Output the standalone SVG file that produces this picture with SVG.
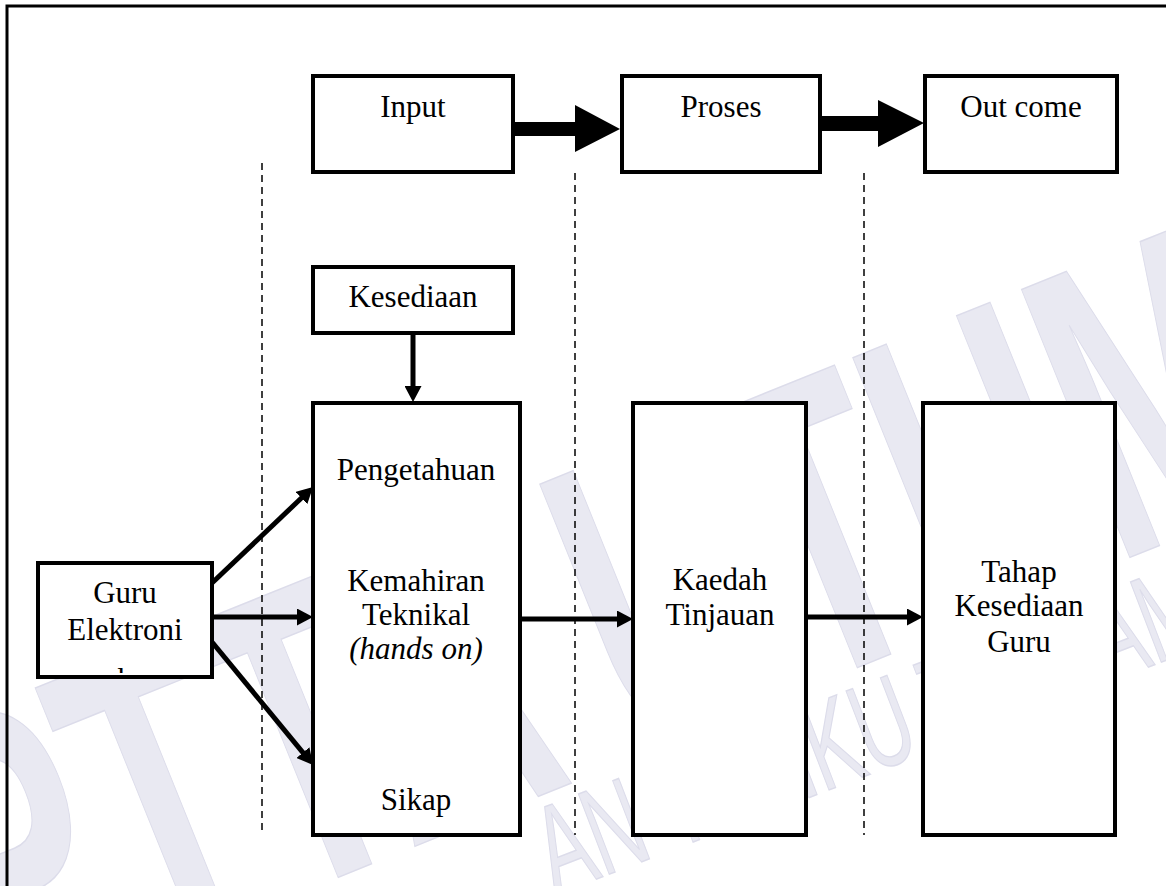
<svg xmlns="http://www.w3.org/2000/svg" width="1166" height="886" viewBox="0 0 1166 886">
<style>
.box{fill:#fff;stroke:#000;stroke-width:4}
.t{font-family:"Liberation Serif","Times New Roman",serif;font-size:31px;fill:#000;text-anchor:middle}
.it{font-style:italic}
.con{stroke:#000;stroke-width:5;fill:none}
.dash{stroke:#000;stroke-width:1.5;stroke-dasharray:7 5;fill:none}
.wm{font-family:"Liberation Sans",Arial,sans-serif;fill:#e9e9f2;stroke:#dcdcea;stroke-width:1.5}
</style>
<defs>
<marker id="ah" markerUnits="userSpaceOnUse" markerWidth="16" markerHeight="17" refX="4" refY="8.5" orient="auto" viewBox="0 0 16 17">
<path d="M0,0 L16,8.5 L0,17 z" fill="#000"/>
</marker>
<clipPath id="guruClip"><rect x="40" y="565" width="170" height="108"/></clipPath>
</defs>
<rect width="1166" height="886" fill="#fff"/>
<g id="watermark">
<g transform="translate(-15,1020) rotate(-22)"><text class="wm" transform="scale(0.6,1)" font-size="420" font-weight="bold">PTTA UTHM</text></g>
<g transform="translate(555,895) rotate(-21)"><text class="wm" transform="scale(0.62,1)" font-size="125">AN TUNKU TUN AMINAH</text></g>
</g>
<g id="frame" stroke="#000" stroke-width="3" fill="none">
<path d="M7,886 V6 H1166"/>
</g>
<g id="dividers">
<line class="dash" x1="262" y1="163" x2="262" y2="835"/>
<line class="dash" x1="575" y1="173" x2="575" y2="835"/>
<line class="dash" x1="864" y1="173" x2="864" y2="835"/>
</g>
<g id="connectors">
<polygon points="513,122 575,122 575,105 620,129 575,152 575,136 513,136" fill="#000"/>
<polygon points="820,116 878,116 878,100 924,123 878,147 878,131 820,131" fill="#000"/>
<line class="con" x1="413" y1="333" x2="413" y2="390" marker-end="url(#ah)"/>
<line class="con" x1="212" y1="583" x2="304.3" y2="495.3" marker-end="url(#ah)"/>
<line class="con" x1="212" y1="617" x2="301" y2="617" marker-end="url(#ah)"/>
<line class="con" x1="212" y1="642" x2="305.4" y2="755.7" marker-end="url(#ah)"/>
<line class="con" x1="520" y1="619" x2="621" y2="619" marker-end="url(#ah)"/>
<line class="con" x1="806" y1="617" x2="911" y2="617" marker-end="url(#ah)"/>
</g>
<g id="input">
<rect class="box" x="313" y="76" width="200" height="96"/>
<text class="t" x="413" y="117">Input</text>
</g>
<g id="proses">
<rect class="box" x="622" y="76" width="198" height="96"/>
<text class="t" x="721" y="117">Proses</text>
</g>
<g id="outcome">
<rect class="box" x="925" y="76" width="192" height="96"/>
<text class="t" x="1021" y="117">Out come</text>
</g>
<g id="kesediaan">
<rect class="box" x="313" y="267" width="200" height="66"/>
<text class="t" x="413" y="307">Kesediaan</text>
</g>
<g id="guru">
<rect class="box" x="38" y="563" width="174" height="114"/>
<text class="t" x="125" y="603">Guru</text>
<text class="t" x="125" y="640">Elektroni</text>
<text class="t" x="125" y="690" clip-path="url(#guruClip)">k</text>
</g>
<g id="input-components">
<rect class="box" x="313" y="403" width="207" height="432"/>
<text class="t" x="416" y="480">Pengetahuan</text>
<text class="t" x="416" y="591">Kemahiran</text>
<text class="t" x="416" y="625">Teknikal</text>
<text class="t it" x="416" y="659">(hands on)</text>
<text class="t" x="416" y="810">Sikap</text>
</g>
<g id="kaedah">
<rect class="box" x="633" y="403" width="173" height="432"/>
<text class="t" x="720" y="590">Kaedah</text>
<text class="t" x="720" y="625">Tinjauan</text>
</g>
<g id="tahap">
<rect class="box" x="923" y="403" width="192" height="432"/>
<text class="t" x="1019" y="582">Tahap</text>
<text class="t" x="1019" y="616">Kesediaan</text>
<text class="t" x="1019" y="652">Guru</text>
</g>
</svg>
